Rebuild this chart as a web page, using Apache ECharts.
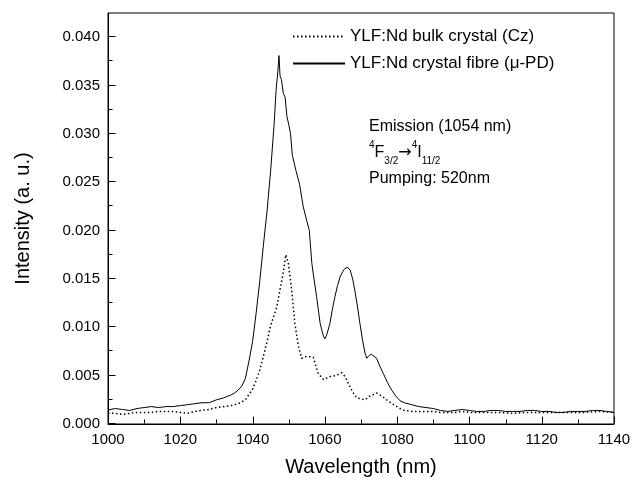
<!DOCTYPE html>
<html>
<head>
<meta charset="utf-8">
<script src="https://cdn.jsdelivr.net/npm/echarts@6/dist/echarts.min.js"></script>
<style>
  html, body { margin: 0; padding: 0; background: #fff; }
  #chart { width: 635px; height: 490px; }
</style>
</head>
<body>
<div id="chart"></div>
<script>
// wavelength (nm) / intensity (a. u.)
const fibreX = [1000, 1002, 1004, 1006, 1008, 1010, 1012, 1014, 1016, 1018, 1020, 1022, 1024, 1026, 1028,
    1030, 1032, 1034, 1035, 1036, 1037, 1038, 1039, 1040, 1041, 1042, 1043, 1044, 1045, 1046, 1046.5,
    1047, 1047.3, 1047.6, 1048, 1048.5, 1049, 1049.5, 1050, 1050.5, 1051, 1052, 1053, 1054, 1055, 1055.7,
    1056.4, 1057, 1057.7, 1058.7, 1059.5, 1060, 1060.5, 1061.4, 1062, 1062.8, 1063.5, 1064.2, 1065, 1065.6,
    1066.3, 1067, 1067.7, 1068.3, 1069, 1069.7, 1070.5, 1071.2, 1071.6, 1072.3, 1072.9, 1073.6, 1074.3,
    1075.2, 1076.2, 1077.3, 1078.5, 1079.6, 1080.8, 1082, 1084, 1086, 1088, 1090, 1092, 1094, 1096, 1098,
    1100, 1102, 1104, 1106, 1108, 1110, 1112, 1114, 1116, 1118, 1120, 1122, 1124, 1126, 1128, 1130, 1132,
    1134, 1136, 1138, 1140];
const fibreY = [0.00145, 0.0016, 0.0015, 0.0014, 0.0016, 0.0017, 0.0018, 0.0017, 0.0018, 0.0018, 0.0019,
    0.0020, 0.0021, 0.0022, 0.0022, 0.0025, 0.0027, 0.0030, 0.0032, 0.0035, 0.0039, 0.0047, 0.0065, 0.0085,
    0.0115, 0.0148, 0.0185, 0.0220, 0.0262, 0.0312, 0.0345, 0.0365, 0.0381, 0.0360, 0.0356, 0.0342, 0.0338,
    0.0318, 0.0310, 0.0300, 0.0278, 0.0262, 0.0248, 0.0225, 0.0210, 0.0200, 0.0166, 0.0150, 0.0132, 0.0104,
    0.0092, 0.0088, 0.0092, 0.0104, 0.0117, 0.0132, 0.0143, 0.0152, 0.0158, 0.0161, 0.0162, 0.0159, 0.0150,
    0.0138, 0.0122, 0.0104, 0.0085, 0.0072, 0.0068, 0.0071, 0.0072, 0.0070, 0.0068, 0.0060, 0.0052, 0.0043,
    0.0035, 0.0029, 0.0024, 0.0022, 0.0020, 0.0018, 0.0017, 0.0016, 0.0014, 0.0013, 0.0014, 0.0015, 0.0014,
    0.0013, 0.0013, 0.0014, 0.0014, 0.0013, 0.0013, 0.0013, 0.0014, 0.0014, 0.0013, 0.0013, 0.0012, 0.0012,
    0.0013, 0.0013, 0.0013, 0.0014, 0.0014, 0.0013, 0.0012];

const bulkX = [1000, 1002, 1004, 1006, 1008, 1010, 1012, 1014, 1016, 1018, 1020, 1022, 1024, 1026, 1028,
    1030, 1032, 1034, 1036, 1038, 1040, 1041, 1042, 1043, 1044, 1045, 1046, 1046.7, 1047.6, 1048.5, 1049.2,
    1049.9, 1050.8, 1051.7, 1052.7, 1053.6, 1055, 1056.8, 1057.5, 1058.2, 1059.6, 1061.4, 1063, 1064.7,
    1065.6, 1066.5, 1067.7, 1068.8, 1070, 1071.1, 1072.5, 1074.3, 1075.7, 1077.1, 1079, 1080.8, 1082, 1084,
    1086, 1088, 1090, 1092, 1094, 1096, 1098, 1100, 1104, 1108, 1112, 1116, 1120, 1124, 1128, 1132, 1136,
    1140];
const bulkY = [0.0011, 0.0011, 0.0010, 0.0011, 0.0012, 0.0012, 0.0012, 0.0013, 0.0013, 0.0013, 0.0012,
    0.0011, 0.0013, 0.0014, 0.0015, 0.0017, 0.0018, 0.0019, 0.0021, 0.0025, 0.0036, 0.0045, 0.0056, 0.0070,
    0.0085, 0.0102, 0.0113, 0.0121, 0.0139, 0.0157, 0.0175, 0.0166, 0.0139, 0.0104, 0.0080, 0.0068, 0.0070,
    0.0069, 0.0060, 0.0052, 0.0046, 0.0049, 0.0050, 0.0053, 0.0049, 0.0042, 0.0033, 0.0027, 0.0026, 0.0025,
    0.0029, 0.0032, 0.0029, 0.0025, 0.0020, 0.0016, 0.0014, 0.0013, 0.0013, 0.0013, 0.0013, 0.0012, 0.0012,
    0.0012, 0.0013, 0.0012, 0.0012, 0.0012, 0.0011, 0.0012, 0.0012, 0.0012, 0.0012, 0.0012, 0.0013, 0.0012];

// tick positions (axis values)
const xMajorTicks = [1000, 1020, 1040, 1060, 1080, 1100, 1120, 1140];
const xMinorTicks = [1010, 1030, 1050, 1070, 1090, 1110, 1130];
const yMajorTicks = [0, 0.005, 0.010, 0.015, 0.020, 0.025, 0.030, 0.035, 0.040];
const yMinorTicks = [0.0025, 0.0075, 0.0125, 0.0175, 0.0225, 0.0275, 0.0325, 0.0375];

const seriesNames = ['YLF:Nd bulk crystal (Cz)', 'YLF:Nd crystal fibre (\u03bc-PD)'];
const noteLines = ['Emission (1054 nm)', '{sup|4}F{sub|3/2}{arr|\u2192}{sup|4}I{sub|11/2}', 'Pumping: 520nm'];

const FONT = '"Liberation Sans", Arial, sans-serif';
const pairs = (xs, ys) => xs.map((x, i) => [x, ys[i]]);

const myChart = echarts.init(document.getElementById('chart'));

const note = {
    type: 'text',
    id: 'note',
    left: 369,
    top: 114,
    style: {
        text: noteLines.join('\n'),
        fontFamily: FONT,
        fontSize: 16,
        lineHeight: 26,
        fill: '#000',
        rich: {
            sup: { fontSize: 10, verticalAlign: 'top', lineHeight: 26, padding: [0, 0, 8, 0] },
            sub: { fontSize: 10, verticalAlign: 'bottom', lineHeight: 26, padding: [10, 0, 0, 0] },
            arr: { fontSize: 16, fontFamily: '"DejaVu Sans"', lineHeight: 26 }
        }
    }
};

const option = {
    animation: false,
    textStyle: { fontFamily: FONT, color: '#000' },
    grid: {
        left: 108, right: 21, top: 13, bottom: 66,
        show: true, borderColor: '#000', borderWidth: 1
    },
    legend: {
        orient: 'vertical',
        left: 287,
        top: 23,
        itemWidth: 52,
        itemHeight: 12,
        itemGap: 10,
        itemStyle: { opacity: 0 },
        textStyle: { fontFamily: FONT, fontSize: 17, color: '#000' },
        data: seriesNames
    },
    xAxis: {
        type: 'value',
        min: 1000, max: 1140, interval: 20,
        name: 'Wavelength (nm)',
        nameLocation: 'middle',
        nameGap: 33,
        nameTextStyle: { fontSize: 20, color: '#000' },
        axisLine: { show: true, onZero: false, lineStyle: { color: '#000' } },
        axisTick: { show: false },
        splitLine: { show: false },
        axisLabel: { fontSize: 15, color: '#000', margin: 8, formatter: v => String(v) }
    },
    yAxis: {
        type: 'value',
        min: 0, max: 0.0425, interval: 0.005,
        name: 'Intensity (a. u.)',
        nameLocation: 'middle',
        nameGap: 75,
        nameTextStyle: { fontSize: 20, color: '#000' },
        axisLine: { show: true, onZero: false, lineStyle: { color: '#000' } },
        axisTick: { show: false },
        splitLine: { show: false },
        axisLabel: {
            fontSize: 15, color: '#000', margin: 8, showMaxLabel: false,
            formatter: function (v) {
                return Math.abs(v * 200 - Math.round(v * 200)) < 1e-6 ? v.toFixed(3) : '';
            }
        }
    },
    graphic: [note],
    series: [
        {
            name: seriesNames[0],
            type: 'line',
            data: pairs(bulkX, bulkY),
            symbol: 'none',
            lineStyle: { color: '#000', width: 1.5, type: [1.5, 2.5] },
            itemStyle: { color: '#000' }
        },
        {
            name: seriesNames[1],
            type: 'line',
            data: pairs(fibreX, fibreY),
            symbol: 'none',
            lineStyle: { color: '#000', width: 1 },
            itemStyle: { color: '#000' }
        }
    ]
};

myChart.setOption(option);

// inward ticks placed through the axes' own scales
const origin = myChart.convertToPixel({ gridIndex: 0 }, [1000, 0]);
const left = Math.round(origin[0]) + 0.5;
const bottom = Math.round(origin[1]) - 0.5;
const tickLine = (id, x1, y1, x2, y2) => ({
    type: 'line', id: id, silent: true, z: 50,
    shape: { x1: x1, y1: y1, x2: x2, y2: y2 },
    style: { stroke: '#000', lineWidth: 1 }
});
const ticks = [];
xMajorTicks.forEach((v, i) => {
    const px = Math.round(myChart.convertToPixel({ xAxisIndex: 0 }, v)) + 0.5;
    ticks.push(tickLine('xM' + i, px, bottom, px, bottom - 7));
});
xMinorTicks.forEach((v, i) => {
    const px = Math.round(myChart.convertToPixel({ xAxisIndex: 0 }, v)) + 0.5;
    ticks.push(tickLine('xm' + i, px, bottom, px, bottom - 4));
});
yMajorTicks.forEach((v, i) => {
    const py = Math.round(myChart.convertToPixel({ yAxisIndex: 0 }, v)) - 0.5;
    ticks.push(tickLine('yM' + i, left, py, left + 7, py));
});
yMinorTicks.forEach((v, i) => {
    const py = Math.round(myChart.convertToPixel({ yAxisIndex: 0 }, v)) - 0.5;
    ticks.push(tickLine('ym' + i, left, py, left + 4, py));
});
myChart.setOption({ graphic: [note].concat(ticks) });
</script>
</body>
</html>
